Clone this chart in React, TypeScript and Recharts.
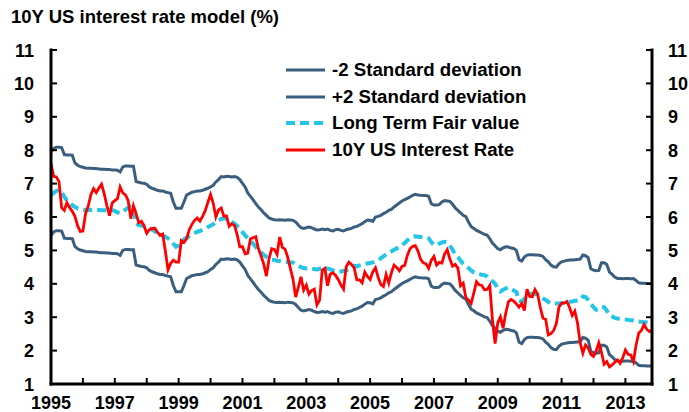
import React from 'react';
import { LineChart, Line, XAxis, YAxis } from 'recharts';

// monthly points, Jan 1995 .. Nov 2013
const startYear = 1995;

const lowerBand = [
    5.45, 5.55, 5.59, 5.59, 5.58, 5.37, 5.36, 5.36, 5.35, 5.12, 5.05, 5.01,
    4.99, 4.97, 4.96, 4.96, 4.95, 4.95, 4.94, 4.93, 4.93, 4.92, 4.92, 4.91,
    4.91, 4.90, 4.85, 5.00, 5.03, 5.03, 5.02, 5.02, 4.56, 4.54, 4.52, 4.51,
    4.48, 4.40, 4.36, 4.33, 4.30, 4.28, 4.28, 4.25, 4.23, 4.21, 3.95, 3.76,
    3.76, 3.76, 3.95, 4.16, 4.20, 4.24, 4.26, 4.28, 4.28, 4.30, 4.33, 4.36,
    4.43, 4.48, 4.58, 4.65, 4.74, 4.73, 4.75, 4.74, 4.73, 4.74, 4.72, 4.65,
    4.54, 4.43, 4.25, 4.15, 4.04, 3.93, 3.83, 3.75, 3.65, 3.58, 3.50, 3.47,
    3.45, 3.44, 3.45, 3.44, 3.43, 3.45, 3.44, 3.43, 3.38, 3.29, 3.21, 3.19,
    3.21, 3.23, 3.21, 3.17, 3.14, 3.15, 3.17, 3.15, 3.17, 3.13, 3.11, 3.15,
    3.16, 3.13, 3.11, 3.15, 3.17, 3.19, 3.23, 3.25, 3.29, 3.33, 3.39, 3.44,
    3.43, 3.40, 3.53, 3.55, 3.58, 3.63, 3.67, 3.73, 3.76, 3.83, 3.89, 3.95,
    4.01, 4.05, 4.09, 4.13, 4.18, 4.21, 4.19, 4.18, 4.17, 4.17, 4.15, 3.93,
    3.89, 3.89, 3.90, 3.98, 4.02, 4.01, 4.00, 3.91, 3.80, 3.73, 3.65, 3.58,
    3.54, 3.38, 3.24, 3.19, 3.13, 3.09, 3.05, 3.01, 2.99, 2.88, 2.75, 2.67,
    2.58, 2.55, 2.61, 2.64, 2.63, 2.60, 2.59, 2.53, 2.25, 2.21, 2.33, 2.39,
    2.40, 2.40, 2.39, 2.39, 2.38, 2.35, 2.25, 2.19, 2.09, 2.04, 2.03, 2.13,
    2.19, 2.21, 2.23, 2.24, 2.24, 2.25, 2.26, 2.27, 2.39, 2.37, 2.31, 1.98,
    1.94, 1.92, 1.93, 2.16, 2.16, 2.11, 1.88, 1.81, 1.73, 1.69, 1.69, 1.68,
    1.69, 1.69, 1.68, 1.69, 1.63, 1.56, 1.55, 1.55, 1.54, 1.54, 1.53,
];

const upperBand = [
    7.95, 8.05, 8.09, 8.09, 8.08, 7.87, 7.86, 7.86, 7.85, 7.62, 7.55, 7.51,
    7.49, 7.47, 7.46, 7.46, 7.45, 7.45, 7.44, 7.43, 7.43, 7.42, 7.42, 7.41,
    7.41, 7.40, 7.35, 7.50, 7.53, 7.53, 7.52, 7.52, 7.06, 7.04, 7.02, 7.01,
    6.98, 6.90, 6.86, 6.83, 6.80, 6.78, 6.78, 6.75, 6.73, 6.71, 6.45, 6.26,
    6.26, 6.26, 6.45, 6.66, 6.70, 6.74, 6.76, 6.78, 6.78, 6.80, 6.83, 6.86,
    6.90, 6.95, 7.05, 7.12, 7.21, 7.20, 7.22, 7.21, 7.20, 7.21, 7.19, 7.12,
    7.01, 6.90, 6.72, 6.62, 6.51, 6.40, 6.30, 6.22, 6.12, 6.05, 5.97, 5.94,
    5.92, 5.91, 5.92, 5.91, 5.90, 5.92, 5.91, 5.90, 5.85, 5.76, 5.68, 5.66,
    5.68, 5.70, 5.68, 5.64, 5.61, 5.62, 5.64, 5.62, 5.64, 5.60, 5.58, 5.62,
    5.63, 5.60, 5.58, 5.62, 5.64, 5.66, 5.70, 5.72, 5.76, 5.80, 5.86, 5.91,
    5.90, 5.87, 6.00, 6.02, 6.05, 6.10, 6.14, 6.20, 6.23, 6.30, 6.36, 6.42,
    6.48, 6.52, 6.56, 6.60, 6.65, 6.68, 6.66, 6.65, 6.64, 6.64, 6.62, 6.40,
    6.36, 6.36, 6.37, 6.45, 6.49, 6.48, 6.47, 6.38, 6.27, 6.20, 6.12, 6.05,
    6.01, 5.85, 5.71, 5.66, 5.60, 5.56, 5.52, 5.48, 5.46, 5.35, 5.22, 5.14,
    5.05, 5.02, 5.08, 5.11, 5.10, 5.07, 5.06, 5.00, 4.72, 4.68, 4.80, 4.86,
    4.87, 4.87, 4.86, 4.86, 4.85, 4.82, 4.72, 4.66, 4.56, 4.51, 4.50, 4.60,
    4.66, 4.68, 4.70, 4.71, 4.71, 4.72, 4.73, 4.74, 4.86, 4.84, 4.78, 4.45,
    4.41, 4.39, 4.40, 4.63, 4.63, 4.58, 4.35, 4.28, 4.20, 4.16, 4.16, 4.15,
    4.16, 4.16, 4.15, 4.16, 4.10, 4.03, 4.02, 4.02, 4.01, 4.01, 4.00,
];

const fairValue = [
    6.66, 6.72, 6.78, 6.81, 6.75, 6.60, 6.50, 6.42, 6.35, 6.30, 6.26, 6.24,
    6.22, 6.21, 6.21, 6.21, 6.20, 6.21, 6.21, 6.20, 6.20, 6.20, 6.21, 6.20,
    6.18, 6.14, 6.11, 6.15, 6.22, 6.28, 6.31, 6.30, 5.80, 5.76, 5.74, 5.72,
    5.71, 5.68, 5.62, 5.57, 5.52, 5.48, 5.44, 5.41, 5.36, 5.30, 5.20, 5.11,
    5.15, 5.25, 5.33, 5.38, 5.43, 5.48, 5.52, 5.56, 5.58, 5.62, 5.66, 5.70,
    5.74, 5.78, 5.84, 5.90, 5.94, 5.96, 5.95, 5.90, 5.85, 5.80, 5.73, 5.65,
    5.55, 5.45, 5.36, 5.27, 5.20, 5.10, 5.01, 4.94, 4.87, 4.81, 4.76, 4.72,
    4.71, 4.69, 4.68, 4.67, 4.66, 4.65, 4.64, 4.64, 4.60, 4.54, 4.50, 4.47,
    4.46, 4.45, 4.44, 4.44, 4.43, 4.45, 4.46, 4.45, 4.46, 4.44, 4.40, 4.37,
    4.36, 4.37, 4.39, 4.40, 4.44, 4.49, 4.54, 4.52, 4.55, 4.57, 4.59, 4.61,
    4.62, 4.64, 4.68, 4.71, 4.76, 4.82, 4.88, 4.92, 4.97, 5.02, 5.06, 5.10,
    5.16, 5.22, 5.30, 5.37, 5.41, 5.42, 5.41, 5.40, 5.39, 5.38, 5.36, 5.25,
    5.16, 5.16, 5.20, 5.24, 5.26, 5.24, 5.15, 5.02, 4.88, 4.80, 4.70, 4.60,
    4.53, 4.47, 4.40, 4.34, 4.31, 4.29, 4.27, 4.26, 4.22, 4.15, 4.08, 4.00,
    3.85, 3.77, 3.82, 3.86, 3.89, 3.85, 3.80, 3.76, 3.50, 3.46, 3.55, 3.62,
    3.67, 3.71, 3.70, 3.68, 3.62, 3.56, 3.52, 3.46, 3.41, 3.41, 3.41, 3.41,
    3.42, 3.44, 3.45, 3.46, 3.47, 3.49, 3.50, 3.52, 3.62, 3.60, 3.52, 3.40,
    3.30, 3.22, 3.24, 3.31, 3.30, 3.20, 3.06, 3.02, 2.98, 2.96, 2.95, 2.94,
    2.93, 2.92, 2.91, 2.90, 2.89, 2.87, 2.86, 2.85, 2.84, 2.82, 2.80,
];

const usRate = [
    7.60, 7.22, 7.20, 7.06, 6.28, 6.20, 6.43, 6.28, 6.17, 6.02, 5.74, 5.57,
    5.58, 6.10, 6.33, 6.67, 6.85, 6.73, 6.87, 6.98, 6.70, 6.34, 6.04, 6.42,
    6.49, 6.55, 6.90, 6.72, 6.66, 6.50, 5.95, 6.34, 6.10, 5.83, 5.87, 5.74,
    5.51, 5.62, 5.65, 5.67, 5.55, 5.45, 5.49, 4.98, 4.42, 4.61, 4.71, 4.65,
    4.65, 5.29, 5.24, 5.35, 5.62, 5.78, 5.90, 5.97, 5.88, 6.02, 6.19, 6.44,
    6.67, 6.41, 6.00, 6.21, 6.27, 6.03, 6.03, 5.72, 5.80, 5.75, 5.47, 5.11,
    5.11, 4.90, 4.92, 5.35, 5.38, 5.41, 5.05, 4.83, 4.59, 4.23, 4.75, 5.05,
    5.03, 4.88, 5.40, 5.09, 5.04, 4.80, 4.46, 4.14, 3.60, 3.89, 4.21, 3.81,
    3.96, 3.69, 3.80, 3.84, 3.37, 3.51, 4.41, 4.46, 3.94, 4.29, 4.33, 4.25,
    4.13, 3.97, 3.84, 4.51, 4.65, 4.58, 4.48, 4.12, 4.12, 4.03, 4.35, 4.22,
    4.13, 4.36, 4.48, 4.20, 3.98, 3.92, 4.28, 4.02, 4.33, 4.56, 4.49, 4.39,
    4.52, 4.55, 4.85, 5.05, 5.12, 5.14, 4.98, 4.73, 4.63, 4.60, 4.46, 4.70,
    4.82, 4.56, 4.64, 4.62, 4.89, 5.02, 4.74, 4.53, 4.58, 4.47, 3.94, 4.02,
    3.59, 3.51, 3.41, 3.73, 4.06, 3.97, 3.95, 3.82, 3.83, 3.95, 2.92, 2.21,
    2.84, 3.01, 2.67, 3.12, 3.46, 3.53, 3.48, 3.40, 3.30, 3.41, 3.20, 3.84,
    3.62, 3.61, 3.83, 3.69, 3.29, 2.97, 2.94, 2.47, 2.51, 2.60, 2.80, 3.30,
    3.42, 3.42, 3.47, 3.29, 3.05, 3.18, 2.82, 2.23, 1.92, 2.17, 2.08, 1.89,
    1.83, 1.98, 2.23, 1.95, 1.59, 1.67, 1.51, 1.57, 1.65, 1.72, 1.62, 1.78,
    2.02, 1.89, 1.87, 1.67, 2.16, 2.52, 2.60, 2.78, 2.64, 2.57, 2.62,
];

const yearTicks = [
    1995, 1996, 1997, 1998, 1999, 2000, 2001, 2002, 2003, 2004,
    2005, 2006, 2007, 2008, 2009, 2010, 2011, 2012, 2013,
];
const labelledYears = [1995, 1997, 1999, 2001, 2003, 2005, 2007, 2009, 2011, 2013];
const rateTicks = [1, 2, 3, 4, 5, 6, 7, 8, 9, 10, 11];

const FONT = '"Liberation Sans", Arial, sans-serif';
const BAND = '#3a5f7e';
const FAIR = '#22c6e6';
const RED = '#ff0000';

const rows = usRate.map((v, i) => ({
    t: startYear + i / 12,
    lower: lowerBand[i],
    upper: upperBand[i],
    fair: fairValue[i],
    rate: v,
}));

const legendItems = [
    { label: '-2 Standard deviation', color: BAND, dash: undefined },
    { label: '+2 Standard deviation', color: BAND, dash: undefined },
    { label: 'Long Term Fair value', color: FAIR, dash: '9 5' },
    { label: '10Y US Interest Rate', color: RED, dash: undefined },
];

const XTick = (props: any) => {
    const { x, y, payload } = props;
    const yr = Math.round(payload.value);
    return (
        <g>
            <line x1={x} y1={y} x2={x} y2={y - 6} stroke="#000" strokeWidth={2} />
            {labelledYears.includes(yr) && (
                <text x={x} y={y + 24.5} textAnchor="middle" fontFamily={FONT} fontSize={18} fontWeight="bold" fill="#000">
                    {yr}
                </text>
            )}
        </g>
    );
};

const LeftTick = (props: any) => {
    const { x, y, payload } = props;
    return (
        <g>
            <line x1={x} y1={y} x2={x + 6} y2={y} stroke="#000" strokeWidth={2} />
            <text x={x - 17} y={y + 6.5} textAnchor="end" fontFamily={FONT} fontSize={18} fontWeight="bold" fill="#000">
                {payload.value}
            </text>
        </g>
    );
};

const RightTick = (props: any) => {
    const { x, y, payload } = props;
    return (
        <g>
            <line x1={x} y1={y} x2={x - 6} y2={y} stroke="#000" strokeWidth={2} />
            <text x={x + 16} y={y + 6.5} textAnchor="start" fontFamily={FONT} fontSize={18} fontWeight="bold" fill="#000">
                {payload.value}
            </text>
        </g>
    );
};

const LegendBox = () => (
    <div
        style={{
            position: 'absolute',
            left: 286,
            top: 57,
            fontFamily: FONT,
            fontSize: 18.67,
            fontWeight: 'bold',
            color: '#000',
        }}
    >
        {legendItems.map((item) => (
            <div key={item.label} style={{ display: 'flex', alignItems: 'center', height: 26.5, lineHeight: '26.5px', whiteSpace: 'nowrap' }}>
                <svg width={39} height={8} style={{ marginRight: 7 }}>
                    <line x1={0} y1={4} x2={39} y2={4} stroke={item.color} strokeWidth={item.dash ? 4 : 3} strokeDasharray={item.dash} />
                </svg>
                <span>{item.label}</span>
            </div>
        ))}
    </div>
);

const axisStroke = { stroke: '#000', strokeWidth: 3, strokeLinecap: 'square' as const };

export default function App() {
    return (
        <div style={{ position: 'absolute', left: 0, top: 0, width: 689, height: 412, background: '#fff' }}>
            <div
                style={{
                    position: 'absolute',
                    left: 11,
                    top: 7,
                    fontFamily: FONT,
                    fontSize: 18.5,
                    lineHeight: '20px',
                    fontWeight: 'bold',
                    color: '#000',
                    whiteSpace: 'nowrap',
                }}
            >
                10Y US interest rate model (%)
            </div>
            <LineChart width={689} height={412} data={rows} margin={{ top: 50, right: 0, bottom: 0, left: 0 }}>
                <XAxis
                    dataKey="t"
                    type="number"
                    domain={[startYear, startYear + (usRate.length - 1) / 12]}
                    ticks={yearTicks}
                    interval={0}
                    height={28}
                    tickSize={0}
                    tickMargin={0}
                    tickLine={false}
                    axisLine={axisStroke}
                    tick={<XTick />}
                    allowDataOverflow
                />
                <YAxis
                    yAxisId="left"
                    orientation="left"
                    domain={[1, 11]}
                    ticks={rateTicks}
                    interval={0}
                    width={51}
                    tickSize={0}
                    tickMargin={0}
                    tickLine={false}
                    axisLine={axisStroke}
                    tick={<LeftTick />}
                />
                <YAxis
                    yAxisId="right"
                    orientation="right"
                    domain={[1, 11]}
                    ticks={rateTicks}
                    interval={0}
                    width={37}
                    tickSize={0}
                    tickMargin={0}
                    tickLine={false}
                    axisLine={axisStroke}
                    tick={<RightTick />}
                />
                <Line yAxisId="left" dataKey="upper" name="+2 Standard deviation" stroke={BAND} strokeWidth={3} dot={false} isAnimationActive={false} />
                <Line yAxisId="left" dataKey="lower" name="-2 Standard deviation" stroke={BAND} strokeWidth={3} dot={false} isAnimationActive={false} />
                <Line yAxisId="left" dataKey="fair" name="Long Term Fair value" stroke={FAIR} strokeWidth={4} strokeDasharray="9 5" dot={false} isAnimationActive={false} />
                <Line yAxisId="left" dataKey="rate" name="10Y US Interest Rate" stroke={RED} strokeWidth={2.8} dot={false} isAnimationActive={false} />
                {/* keeps the mirrored right axis bound to data */}
                <Line yAxisId="right" dataKey="rate" stroke="none" dot={false} activeDot={false} isAnimationActive={false} />
            </LineChart>
            <LegendBox />
        </div>
    );
}
